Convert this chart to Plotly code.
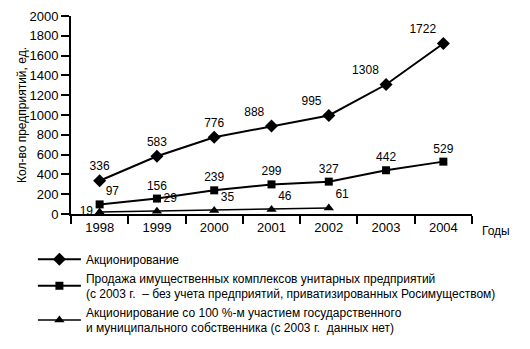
import plotly.graph_objects as go

years = ["1998", "1999", "2000", "2001", "2002", "2003", "2004"]
aktsionirovanie = [336, 583, 776, 888, 995, 1308, 1722]
prodazha = [97, 156, 239, 299, 327, 442, 529]
years_100 = ["1998", "1999", "2000", "2001", "2002"]
aktsion_100 = [19, 29, 35, 46, 61]

names = [
    "Акционирование",
    "Продажа имущественных комплексов унитарных предприятий<br>(с 2003 г.  – без учета предприятий, приватизированных Росимуществом)",
    "Акционирование со 100 %-м участием государственного<br>и муниципального собственника (с 2003 г.  данных нет)",
]

FONT = "Liberation Sans, Arial, sans-serif"
lab_font = dict(family=FONT, size=12, color="black")

fig = go.Figure()
fig.add_trace(go.Scatter(
    x=years, y=aktsionirovanie, name=names[0], mode="lines+markers+text",
    text=[str(v) for v in aktsionirovanie],
    textposition=["top center"] * 3 + ["top left"] * 4,
    textfont=lab_font,
    line=dict(color="black", width=2),
    marker=dict(symbol="diamond", size=10, color="black"),
    legendgroup="a",
))
fig.add_trace(go.Scatter(
    x=years, y=prodazha, name=names[1], mode="lines+markers+text",
    text=[str(v) for v in prodazha],
    textposition=["top right"] + ["top center"] * 6,
    textfont=lab_font,
    line=dict(color="black", width=2),
    marker=dict(symbol="square", size=8, color="black"),
    legendgroup="b",
))
fig.add_trace(go.Scatter(
    x=years_100, y=aktsion_100, name=names[2], mode="lines+markers+text",
    text=[str(v) for v in aktsion_100],
    textposition=["middle left"] + ["top right"] * 4,
    textfont=lab_font,
    line=dict(color="black", width=1.5),
    marker=dict(symbol="triangle-up", size=9, color="black"),
    legendgroup="b",
))

fig.update_layout(
    width=530, height=349,
    margin=dict(l=71, r=58, t=16, b=135, autoexpand=False),
    paper_bgcolor="white", plot_bgcolor="white",
    font=dict(family=FONT, size=12, color="black"),
    showlegend=True,
    legend=dict(
        x=-0.095, y=-0.155, xanchor="left", yanchor="top",
        font=dict(family=FONT, size=12, color="black"),
        itemwidth=43, tracegroupgap=5, bgcolor="rgba(0,0,0,0)",
        traceorder="normal",
    ),
    xaxis=dict(
        type="category", range=[-0.5, 6.5], showgrid=False,
        showline=True, linecolor="black", linewidth=2,
        ticks="outside", ticklen=8, tickwidth=2, tickcolor="black",
        tickson="boundaries", tickfont=dict(family=FONT, size=13),
        zeroline=False,
    ),
    yaxis=dict(
        range=[0, 2000], dtick=200, showgrid=False,
        showline=True, linecolor="black", linewidth=2,
        ticks="outside", ticklen=8, tickwidth=2, tickcolor="black",
        tickfont=dict(family=FONT, size=13), zeroline=False,
        title=dict(text="Кол-во предприятий, ед.", font=dict(family=FONT, size=12), standoff=0),
    ),
    annotations=[dict(
        text="Годы", xref="paper", yref="paper", x=1, y=0,
        xanchor="left", yanchor="top", xshift=8, yshift=-8,
        showarrow=False, font=dict(family=FONT, size=12),
    )],
)

fig.write_html("out.html")
